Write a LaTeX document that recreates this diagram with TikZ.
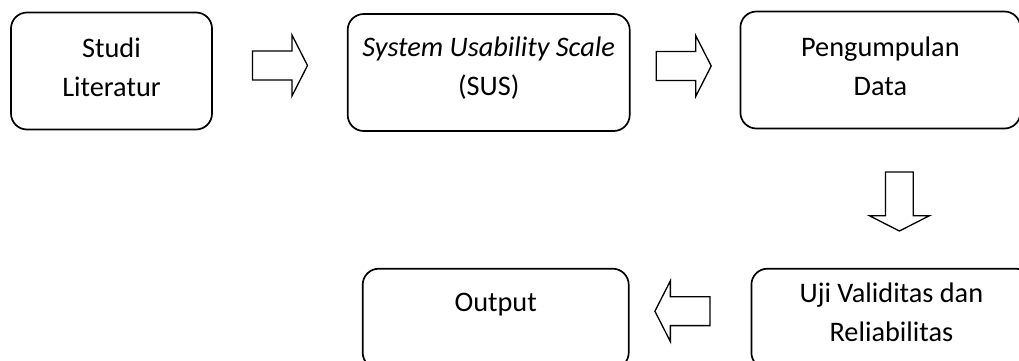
\documentclass[tikz,border=0pt]{standalone}
\usepackage{fontspec}
\setmainfont{Carlito}
\usetikzlibrary{positioning,shapes.arrows}

\begin{document}
\begin{tikzpicture}[
    font=\fontsize{28.3}{39}\selectfont,
    node distance=40pt and 40pt,
    every node/.style={align=center},
    box/.style={draw, rounded corners=16pt, line width=1.7pt, inner sep=2pt, minimum height=117pt},
    lowbox/.style={box, minimum height=100pt},
    bigarr/.style={draw, single arrow, line width=1.3pt, inner xsep=0pt, inner ysep=13.75pt,
        minimum height=55pt, single arrow head extend=16pt, single arrow tip angle=126},
    downarr/.style={bigarr, shape border rotate=270, inner xsep=13.25pt, inner ysep=0pt, minimum height=59pt},
]
\useasboundingbox (0,0) rectangle (1019pt,-361pt);
\clip (0,0) rectangle (1019pt,-361pt);

% --- Top row: left to right ---
\node[box, minimum width=201pt, text depth=7pt] (studi) at (111.5pt,-71pt) {Studi\\Literatur};
\node[bigarr] (arr1) [right=39pt of studi, yshift=5.5pt] {};
\node[box, minimum width=282pt, text depth=13pt] (sus) [right=134pt of studi, yshift=-1.5pt] {\textit{System Usability Scale}\\(SUS)};
\node[bigarr] (arr2) [right=25pt of sus, yshift=6.5pt] {};
\node[box, minimum width=280pt, text depth=7pt] (data) [right=109pt of sus, yshift=2.5pt] {Pengumpulan\\Data};

% --- Down to the bottom row ---
\node[downarr] (arr3) [below=42pt of data, xshift=19pt] {};

% --- Bottom row: right to left ---
\node[lowbox, minimum width=280pt, text depth=13pt] (uji) [below=138.5pt of data, xshift=11pt] {Uji Validitas dan\\Reliabilitas};
\node[bigarr, shape border rotate=180] (arr4) [left=40pt of uji, yshift=7.5pt] {};
\node[lowbox, minimum width=266pt, text depth=32pt] (output) [left=121pt of uji] {Output};

\end{tikzpicture}
\end{document}
